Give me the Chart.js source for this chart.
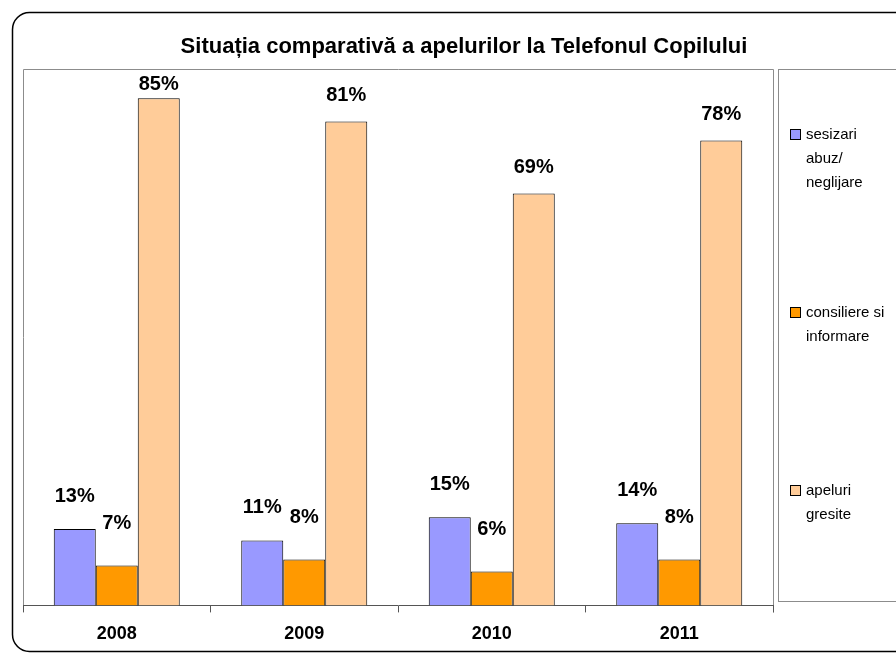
<!DOCTYPE html>
<html>
<head>
<meta charset="utf-8">
<script src="https://cdn.jsdelivr.net/npm/chart.js@4.4.1/dist/chart.umd.min.js"></script>
<style>
	body { margin: 0; background: #fff; }
	#wrap { width: 896px; height: 658px; position: relative; }
</style>
</head>
<body>
<div id="wrap"><canvas id="myChart" width="896" height="658"></canvas></div>
<script>
var years = ["2008", "2009", "2010", "2011"];
var sesizari = [12.8, 10.9, 14.8, 13.8];
var consiliere = [6.7, 7.7, 5.7, 7.7];
var apeluri = [85.1, 81.2, 69.1, 78.0];
var seriesNames = [["sesizari", "abuz/", "neglijare"], ["consiliere si", "informare"], ["apeluri", "gresite"]];
var titleText = "Situația comparativă a apelurilor la Telefonul Copilului";

var FONT = "'Liberation Sans', Arial, sans-serif";

//frame, title, plot border and legend box
var framePlugin = {
	id: "frame",
	beforeDraw: function(chart){
		var ctx = chart.ctx, a = chart.chartArea;
		ctx.save();
		ctx.fillStyle = "#fff";
		ctx.fillRect(0, 0, chart.width, chart.height);

		ctx.strokeStyle = "#000";
		ctx.lineWidth = 1.5;
		ctx.beginPath();
		ctx.roundRect(12.5, 12.5, 910, 639, 17);
		ctx.stroke();

		ctx.strokeStyle = "#8c8c8c";
		ctx.lineWidth = 1;
		ctx.beginPath();
		ctx.moveTo(a.left + 0.5, a.bottom);
		ctx.lineTo(a.left + 0.5, a.top + 0.5);
		ctx.lineTo(a.right + 0.5, a.top + 0.5);
		ctx.lineTo(a.right + 0.5, a.bottom + 7);
		ctx.stroke();

		ctx.fillStyle = "#000";
		ctx.font = "bold 22px " + FONT;
		ctx.textAlign = "center";
		ctx.textBaseline = "middle";
		ctx.fillText(titleText, 464, 47);
		ctx.restore();
	},
	afterDraw: function(chart){
		var ctx = chart.ctx;
		ctx.save();
		ctx.strokeStyle = "#8c8c8c";
		ctx.lineWidth = 1;
		ctx.strokeRect(778.5, 69.5, 140, 532);

		ctx.font = "15px " + FONT;
		ctx.textAlign = "left";
		ctx.textBaseline = "middle";
		chart.data.datasets.forEach(function(ds, i){
			var y = 135 + i * 178;
			ctx.fillStyle = ds.backgroundColor;
			ctx.fillRect(790.5, y - 5.5, 10, 10);
			ctx.strokeStyle = "#000";
			ctx.strokeRect(790.5, y - 5.5, 10, 10);
			ctx.fillStyle = "#000";
			for (var j = 0; j < seriesNames[i].length; j++){
				ctx.fillText(seriesNames[i][j], 806, y + j * 24);
			}
		});
		ctx.restore();
	}
};

//value labels above the bars, kept inside the plot area
var labelPlugin = {
	id: "valueLabels",
	afterDatasetsDraw: function(chart){
		var ctx = chart.ctx, top = chart.chartArea.top;
		var offsets = [33, 42, 26];
		ctx.save();
		ctx.fillStyle = "#000";
		ctx.font = "bold 20px " + FONT;
		ctx.textAlign = "center";
		ctx.textBaseline = "middle";
		chart.data.datasets.forEach(function(ds, i){
			var meta = chart.getDatasetMeta(i);
			meta.data.forEach(function(bar, k){
				var y = Math.max(bar.y - offsets[i], top + 15);
				ctx.fillText(Math.round(ds.data[k]) + "%", bar.x, y);
			});
		});
		ctx.restore();
	}
};

var ctx = document.getElementById("myChart").getContext("2d");
new Chart(ctx, {
	type: "bar",
	data: {
		labels: years,
		datasets: [
			{ label: seriesNames[0].join(" "), data: sesizari, backgroundColor: "#9999FF", borderColor: "#000", borderWidth: 1 },
			{ label: seriesNames[1].join(" "), data: consiliere, backgroundColor: "#FF9900", borderColor: "#000", borderWidth: 1 },
			{ label: seriesNames[2].join(" "), data: apeluri, backgroundColor: "#FFCC99", borderColor: "#000", borderWidth: 1 }
		]
	},
	options: {
		responsive: false,
		animation: false,
		layout: { padding: { left: 23, top: 69, right: 123, bottom: 2 } },
		datasets: { bar: { categoryPercentage: 0.672, barPercentage: 1 } },
		plugins: {
			legend: { display: false },
			title: { display: false },
			tooltip: { enabled: false }
		},
		scales: {
			x: {
				grid: { offset: true, drawOnChartArea: false, drawTicks: true, tickLength: 7, color: "#555" },
				border: { display: true, color: "#555", width: 1 },
				ticks: { color: "#000", font: { family: FONT, size: 18, weight: "bold" }, padding: 11 }
			},
			y: { display: false, min: 0, max: 90 }
		}
	},
	plugins: [framePlugin, labelPlugin]
});
</script>
</body>
</html>
